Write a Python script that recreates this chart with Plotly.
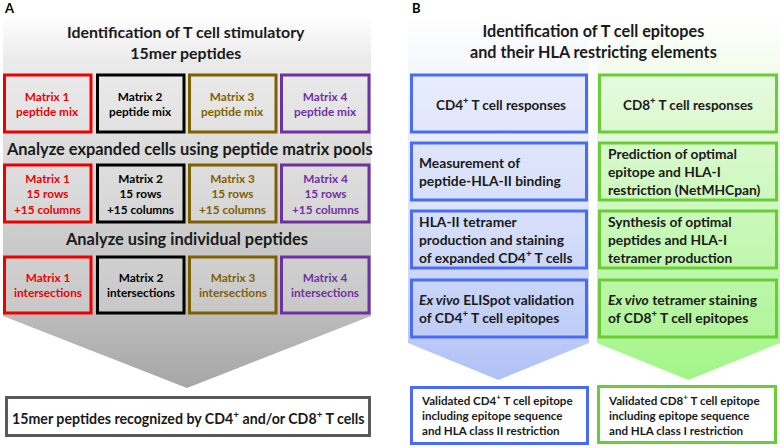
import plotly.graph_objects as go

# ---------------- data (texts) ----------------
matrix_names = ["Matrix 1", "Matrix 2", "Matrix 3", "Matrix 4"]
matrix_colors = ["#ee0000", "#000000", "#7f6000", "#70309f"]
matrix_row_labels = ["peptide mix", "15 rows<br>+15 columns", "intersections"]
panel_a_headings = [
    "Identification of T cell stimulatory<br>15mer peptides",
    "Analyze expanded cells using peptide matrix pools",
    "Analyze using individual peptides",
]
panel_a_result = "15mer peptides recognized by CD4<sup>+</sup> and/or CD8<sup>+</sup> T cells"
panel_b_title = "Identification of T cell epitopes<br>and their HLA restricting elements"
cd4_steps = [
    "CD4<sup>+</sup> T cell responses",
    "Measurement of<br>peptide-HLA-II binding",
    "HLA-II tetramer<br>production and staining<br>of expanded CD4<sup>+</sup> T cells",
    "<i>Ex vivo</i> ELISpot validation<br>of CD4<sup>+</sup> T cell epitopes",
]
cd8_steps = [
    "CD8<sup>+</sup> T cell responses",
    "Prediction of optimal<br>epitope and HLA-I<br>restriction (NetMHCpan)",
    "Synthesis of optimal<br>peptides and HLA-I<br>tetramer production",
    "<i>Ex vivo</i> tetramer staining<br>of CD8<sup>+</sup> T cell epitopes",
]
cd4_result = "Validated CD4<sup>+</sup> T cell epitope<br>including epitope sequence<br>and HLA class II restriction"
cd8_result = "Validated CD8<sup>+</sup> T cell epitope<br>including epitope sequence<br>and HLA class I restriction"
panel_labels = ["A", "B"]

FONT = "Lato"

fig = go.Figure()

def arrow_bg(x0, x1, ytop, ybody, ytip, colors):
    xm = (x0 + x1) / 2
    fig.add_trace(go.Scatter(
        x=[x0, x1, x1, xm, x0, x0],
        y=[ytop, ytop, ybody, ytip, ybody, ytop],
        mode="lines", line=dict(width=0), fill="toself",
        fillgradient=dict(type="vertical", colorscale=colors, start=ytop, stop=ytip),
        hoverinfo="skip", showlegend=False))

# Panel A background arrow
arrow_bg(3, 371, 15, 316, 388,
         [[0, "#ffffff"], [0.12, "#ebebeb"], [0.45, "#d6d6d6"], [0.8, "#bcbcbc"], [1, "#a6a6a6"]])
# Panel B background arrows
arrow_bg(408, 589, 15, 343, 380,
         [[0, "#ffffff"], [0.25, "#eef1fc"], [0.6, "#d7e0fa"], [1, "#b0c1f5"]])
arrow_bg(597, 780, 15, 343, 380,
         [[0, "#ffffff"], [0.25, "#e9fbe2"], [0.6, "#c9f9b9"], [1, "#a2f587"]])

shapes = []
annotations = []

def box(x0, x1, y0, y1, color, width=3, fill="rgba(0,0,0,0)"):
    shapes.append(dict(type="rect", xref="x", yref="y", x0=x0, x1=x1, y0=y0, y1=y1,
                       line=dict(color=color, width=width), fillcolor=fill, layer="above"))

def text(x, y, s, size, color="#000000", xanchor="center", align="center", bold=True):
    annotations.append(dict(x=x, y=y, xref="x", yref="y", text=s, showarrow=False,
                            xanchor=xanchor, yanchor="middle", align=align,
                            font=dict(family=FONT, size=size, color=color,
                                      weight="bold" if bold else "normal")))

# Panel A matrix boxes
col_x = [(4.5, 91), (97.5, 184), (189.5, 276), (281.5, 369)]
row_y = [(75, 132), (165, 222), (257, 313)]
for r, (ya, yb) in enumerate(row_y):
    for c, (xa, xb) in enumerate(col_x):
        box(xa, xb, ya, yb, matrix_colors[c], fill="rgba(235,235,235,0.25)")
        text((xa + xb) / 2, (ya + yb) / 2,
             matrix_names[c] + "<br>" + matrix_row_labels[r], 11.8, matrix_colors[c])

text(186, 42, panel_a_headings[0], 15.9, "#1a1a1a")
text(189, 148, panel_a_headings[1], 16.4, "#1a1a1a")
text(186, 238, panel_a_headings[2], 16.4, "#1a1a1a")

box(6.5, 369.5, 397.5, 435.5, "#595959", fill="#ffffff")
text(188, 417, panel_a_result, 14.2, "#1a1a1a")

# Panel B
text(593, 41, panel_b_title, 16.2, "#1a1a1a")
blue = "#4a6cf4"
green = "#6acd38"
b_rows = [(75, 132), (143, 200), (211, 268), (280, 337)]
for i, (ya, yb) in enumerate(b_rows):
    box(411.5, 586.5, ya, yb, blue, fill="rgba(200,212,248,0.25)")
    box(599.5, 776.5, ya, yb, green, fill="rgba(190,245,170,0.2)")
    if i == 0:
        text(501, (ya + yb) / 2, cd4_steps[i], 13.5, "#1a1a1a")
        text(688, (ya + yb) / 2, cd8_steps[i], 13.5, "#1a1a1a")
    else:
        text(417, (ya + yb) / 2, cd4_steps[i], 13.8, "#1a1a1a", xanchor="left", align="left")
        text(606, (ya + yb) / 2, cd8_steps[i], 13.8, "#1a1a1a", xanchor="left", align="left")

box(411.5, 587.5, 387.5, 443.5, blue, fill="#ffffff")
box(598.5, 775.5, 386.5, 442.5, green, fill="#ffffff")
text(419, 414, cd4_result, 11.6, "#1a1a1a", xanchor="left", align="left")
text(606, 414, cd8_result, 11.6, "#1a1a1a", xanchor="left", align="left")

text(9, 8, panel_labels[0], 13, "#000000")
text(416, 8, panel_labels[1], 13, "#000000")

fig.update_layout(
    width=780, height=448,
    margin=dict(l=0, r=0, t=0, b=0),
    paper_bgcolor="#ffffff", plot_bgcolor="#ffffff",
    xaxis=dict(range=[0, 780], visible=False, fixedrange=True),
    yaxis=dict(range=[448, 0], visible=False, fixedrange=True),
    shapes=shapes, annotations=annotations, showlegend=False,
)
fig.write_html("out.html", config={"displayModeBar": False},
               post_script="document.body.style.margin='0';document.body.style.overflow='hidden';")
